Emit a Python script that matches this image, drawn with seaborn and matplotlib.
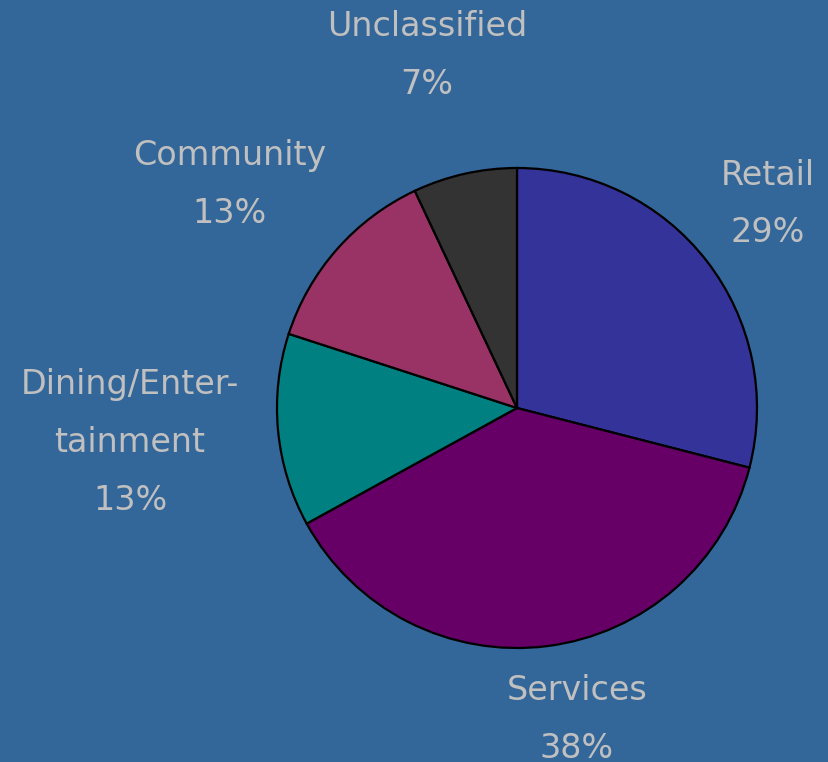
import matplotlib
matplotlib.use("Agg")
import matplotlib.pyplot as plt
import seaborn as sns

categories = ["Retail", "Services", "Dining/Enter-\ntainment", "Community", "Unclassified"]
shares = [29, 38, 13, 13, 7]
colors = ["#333399", "#660066", "#008080", "#993366", "#333333"]

# label anchor points (pie radius = 1)
label_xy = [(1.046, 0.85), (0.25, -1.296), (-1.6125, -0.144), (-1.196, 0.933), (-0.375, 1.467)]

sns.set_theme(style="white")
plt.rcParams["font.family"] = ["DejaVu Sans"]

bg = "#336699"
fig = plt.figure(figsize=(8.29, 7.62), dpi=100, facecolor=bg)
ax = fig.add_axes([0, 0, 1, 1], facecolor=bg)

ax.pie(shares, colors=colors, startangle=90, counterclock=False, radius=1,
       wedgeprops=dict(edgecolor="black", linewidth=1.6))

for name, val, (x, y) in zip(categories, shares, label_xy):
    ax.text(x, y, f"{name}\n{val}%", ha="center", va="center", color="#C0C0C0",
            fontsize=24, fontweight="medium", linespacing=1.96)

ax.set_xlim(-517 / 240, (829 - 517) / 240)
ax.set_ylim(-(762 - 408) / 240, 408 / 240)
ax.set_aspect("equal")
ax.axis("off")

fig.savefig("out.png", dpi=100, facecolor=bg)
